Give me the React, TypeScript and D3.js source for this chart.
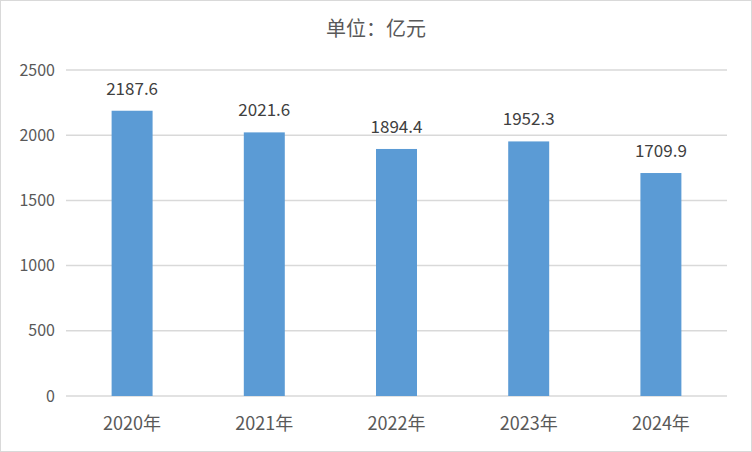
import React from "react";
import * as d3 from "d3";

const categories = ["2020年", "2021年", "2022年", "2023年", "2024年"];
const values = [2187.6, 2021.6, 1894.4, 1952.3, 1709.9];
const yTicks = [0, 500, 1000, 1500, 2000, 2500];
const title = "单位：亿元";

const W = 752;
const H = 452;
const FONT = "'Noto Sans CJK SC', 'Noto Sans', sans-serif";

export default function App() {
  const x = d3.scaleBand<string>().domain(categories).range([66, 727]).paddingInner(0.69).paddingOuter(0.345);
  const y = d3.scaleLinear().domain([0, 2500]).range([396, 70]);
  return (
    <svg width={W} height={H} style={{ position: "absolute", left: 0, top: 0 }} fontFamily={FONT}>
      <rect x={0.5} y={0.5} width={W - 1} height={H - 1} fill="#fff" stroke="#d9d9d9" />
      <text x={376} y={36} textAnchor="middle" fontSize={20} fill="#595959">{title}</text>
      {yTicks.map((t) => (
        <g key={t}>
          <line x1={66} x2={727} y1={y(t)} y2={y(t)} stroke="#d9d9d9" strokeWidth={1.5} />
          <text x={55} y={y(t)} dy="0.35em" textAnchor="end" fontSize={16} fill="#595959">{t}</text>
        </g>
      ))}
      {categories.map((c, i) => (
        <g key={c}>
          <rect x={x(c)} y={y(values[i])} width={x.bandwidth()} height={y(0) - y(values[i])} fill="#5b9bd5" />
          <text x={(x(c) as number) + x.bandwidth() / 2} y={y(values[i]) - 16} textAnchor="middle" fontSize={17} fill="#404040">{values[i].toFixed(1)}</text>
          <text x={(x(c) as number) + x.bandwidth() / 2} y={430} textAnchor="middle" fontSize={18} fill="#595959">{c}</text>
        </g>
      ))}
    </svg>
  );
}
